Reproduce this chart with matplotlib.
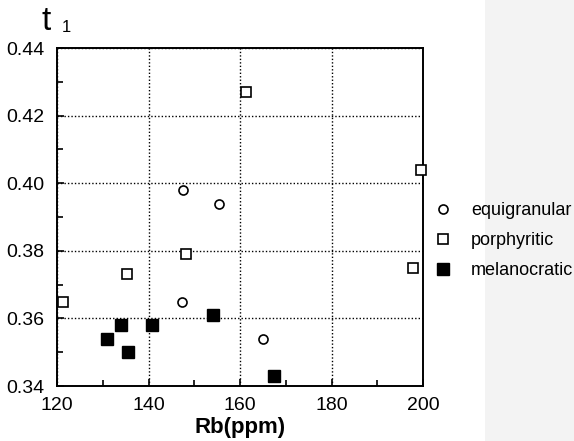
import matplotlib
matplotlib.use("Agg")
import matplotlib.pyplot as plt
from matplotlib.ticker import MultipleLocator
from matplotlib.patches import Rectangle

# data
equi_rb = [147.6, 155.3, 147.3, 165.1]
equi_t1 = [0.398, 0.394, 0.365, 0.354]

porph_rb = [161.4, 121.3, 135.3, 148.3, 199.5, 197.8]
porph_t1 = [0.427, 0.365, 0.373, 0.379, 0.404, 0.375]

mela_rb = [131.0, 134.0, 135.6, 140.8, 154.0, 167.5]
mela_t1 = [0.354, 0.358, 0.350, 0.358, 0.361, 0.343]

x_ticks = [120, 140, 160, 180, 200]
y_ticks = [0.34, 0.36, 0.38, 0.40, 0.42, 0.44]

plt.rcParams["font.family"] = ["Liberation Sans", "DejaVu Sans"]

fig = plt.figure(figsize=(5.74, 4.41), dpi=100)
# faint scan shading on the right edge
shade = Rectangle((0.845, 0.0), 0.155, 1.0, transform=fig.transFigure,
                  facecolor="#f3f3f3", edgecolor="none", zorder=-5)
fig.patches.append(shade)
ax = fig.add_axes([0.0993, 0.1247, 0.6377, 0.7663])
ax.set_facecolor("none")

ax.plot(equi_rb, equi_t1, "o", ms=6.5, mfc="white", mec="black", mew=1.2,
        linestyle="none", label="equigranular", zorder=3, clip_on=False)
ax.plot(porph_rb, porph_t1, "s", ms=7.5, mfc="white", mec="black", mew=1.2,
        linestyle="none", label="porphyritic", zorder=3, clip_on=False)
ax.plot(mela_rb, mela_t1, "s", ms=8, mfc="black", mec="black",
        linestyle="none", label="melanocratic", zorder=3, clip_on=False)

ax.set_xlim(120, 200)
ax.set_ylim(0.34, 0.44)
ax.set_xticks(x_ticks)
ax.set_yticks(y_ticks)
ax.set_yticklabels([f"{v:.2f}" for v in y_ticks])
ax.xaxis.set_minor_locator(MultipleLocator(10))
ax.yaxis.set_minor_locator(MultipleLocator(0.01))
ax.tick_params(which="both", direction="in", labelsize=14, colors="black")
ax.tick_params(which="major", length=5, width=1.2)
ax.tick_params(axis="y", which="major", pad=9)
ax.tick_params(axis="x", which="major", pad=8)
ax.tick_params(which="minor", length=4, width=1.2)
ax.grid(True, which="major", color="black", linestyle=(0, (1, 1.5)), lw=1.0)
for s in ax.spines.values():
    s.set_linewidth(1.4)

ax.set_xlabel("Rb(ppm)", fontsize=16, fontweight="bold", labelpad=2)
fig.text(0.072, 0.932, "t", fontsize=24, ha="left", va="baseline")
fig.text(0.107, 0.928, "1", fontsize=12, ha="left", va="baseline")

leg = ax.legend(loc="center left", bbox_to_anchor=(1.035, 0.43), frameon=False,
                fontsize=13, handletextpad=1.15, labelspacing=0.72, handlelength=0.8,
                borderpad=0, borderaxespad=0)

fig.savefig("out.png", dpi=100)
